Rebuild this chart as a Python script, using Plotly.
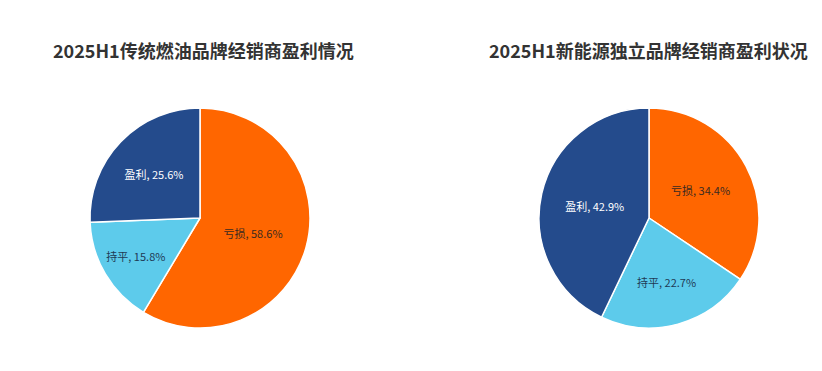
import plotly.graph_objects as go

labels = ["亏损", "持平", "盈利"]
fuel_values = [58.6, 15.8, 25.6]
nev_values = [34.4, 22.7, 42.9]
titles = ["2025H1传统燃油品牌经销商盈利情况", "2025H1新能源独立品牌经销商盈利状况"]
colors = ["#FF6600", "#5DCBEB", "#244B8C"]
text_colors = ["#3a2a20", "#1f3a55", "#ffffff"]

OFF = 8  # page body margin
W, H = 822 - OFF, 371 - OFF
fig = go.Figure()

def add_pie(values, cx, cy, r):
    cx -= OFF
    cy -= OFF
    fig.add_trace(go.Pie(
        labels=labels, values=values, sort=False, direction="clockwise", rotation=0,
        marker=dict(colors=colors, line=dict(color="white", width=1.5)),
        texttemplate="%{label}, %{value}%", textinfo="text",
        textposition="inside", insidetextorientation="horizontal",
        insidetextfont=dict(color=text_colors, size=11, family="Noto Sans CJK SC"),
        hoverinfo="label+value", showlegend=False,
        domain=dict(x=[(cx - r) / W, (cx + r) / W], y=[(H - cy - r) / H, (H - cy + r) / H]),
    ))

add_pie(fuel_values, 200, 218, 110)
add_pie(nev_values, 649, 218, 110)

for t, x in zip(titles, [203, 648]):
    fig.add_annotation(text="<b>" + t + "</b>", x=(x - OFF) / W, y=1 - (50 - OFF) / H,
                       xref="paper", yref="paper",
                       showarrow=False, xanchor="center", yanchor="middle",
                       font=dict(size=18, color="#333333", family="Noto Sans CJK SC"))

fig.update_layout(width=W, height=H, margin=dict(l=0, r=0, t=0, b=0),
                  paper_bgcolor="white", plot_bgcolor="white")
fig.write_html("out.html")
